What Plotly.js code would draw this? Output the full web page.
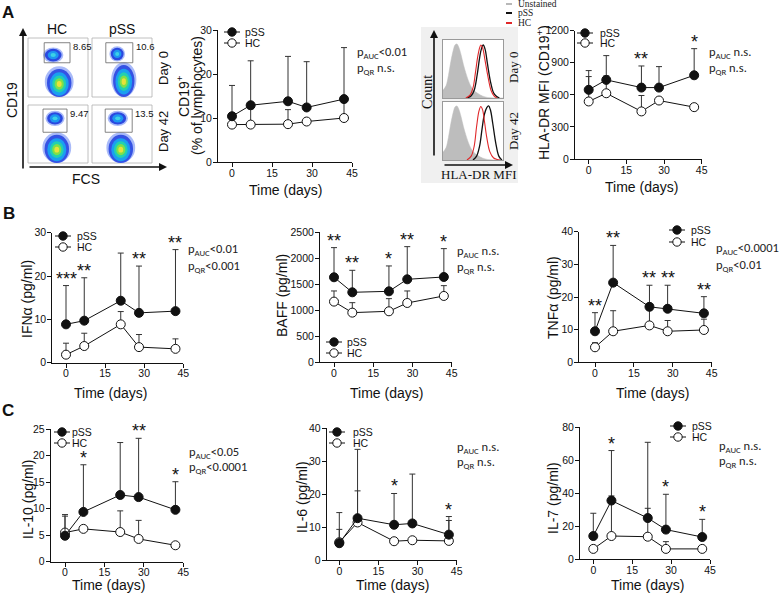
<!DOCTYPE html>
<html><head><meta charset="utf-8">
<script src="https://cdn.plot.ly/plotly-3.0.1.min.js"></script>
<style>body{margin:0;background:#fff}#c{width:780px;height:594px}</style>
</head><body><div id="c"></div>
<script>
// ---------------- DATA ----------------
const days = [0, 7, 21, 28, 42];
const xTickVals = [0, 15, 30, 45];

const cd19_pSS   = [10.4, 12.9, 13.8, 12.4, 14.3];
const cd19_pSSup = [17.4, 23.0, 24.0, 22.8, 26.0];
const cd19_HC    = [8.5, 8.5, 8.6, 9.2, 10.0];
const cd19_HCup  = [11.0, 12.1, 11.9, null, 13.7];
const cd19_stars = ['', '', '', '', ''];
const cd19_yticks = [0, 10, 20, 30];

const hla_pSS   = [647, 740, 668, 668, 783];
const hla_pSSup = [827, 967, 870, 864, 1032];
const hla_HC    = [538, 615, 445, 547, 485];
const hla_HCup  = [771, 777, 594, null, null];
const hla_stars = ['', '', '**', '', '*'];
const hla_yticks = [0, 300, 600, 900, 1200];

const ifn_pSS   = [8.85, 9.7, 14.3, 11.5, 11.9];
const ifn_pSSup = [17.8, 19.6, 25.3, 22.3, 26.1];
const ifn_HC    = [1.85, 3.85, 8.85, 3.6, 3.2];
const ifn_HCup  = [4.5, 6.8, 11.8, 6.5, 5.5];
const ifn_stars = ['***', '**', '', '**', '**'];
const ifn_yticks = [0, 10, 20, 30];

const baff_pSS   = [1635, 1346, 1365, 1596, 1641];
const baff_pSSup = [2205, 1769, 1853, 2224, 2186];
const baff_HC    = [1167, 955, 981, 1141, 1276];
const baff_HCup  = [1372, 1147, 1224, 1372, 1474];
const baff_stars = ['**', '**', '*', '**', '*'];
const baff_yticks = [0, 500, 1000, 1500, 2000, 2500];

const tnf_pSS   = [9.5, 24.4, 17.0, 16.4, 15.0];
const tnf_pSSup = [15.2, 35.8, 23.6, 23.6, 20.1];
const tnf_HC    = [4.6, 9.5, 11.3, 9.5, 9.9];
const tnf_HCup  = [6.0, 15.8, 16.0, 12.8, 13.2];
const tnf_stars = ['**', '**', '**', '**', '**'];
const tnf_yticks = [0, 10, 20, 30, 40];

const il10_pSS   = [4.9, 9.4, 12.6, 12.2, 9.8];
const il10_pSSup = [8.9, 18.3, 22.5, 23.3, 15.1];
const il10_HC    = [5.5, 6.2, 5.6, 4.3, 3.1];
const il10_HCup  = [8.6, null, 9.6, 7.8, null];
const il10_stars = ['', '*', '', '**', '*'];
const il10_yticks = [0, 5, 10, 15, 20, 25];

const il6_pSS   = [5.1, 12.7, 10.7, 11.1, 7.7];
const il6_pSSup = [14.4, 33.6, 20.2, 26.1, 13.2];
const il6_HC    = [5.4, 11.4, 5.7, 6.0, 5.8];
const il6_HCup  = [9.3, 21.0, null, null, 12.0];
const il6_stars = ['', '', '*', '', '*'];
const il6_yticks = [0, 10, 20, 30, 40];

const il7_pSS   = [14.1, 35.6, 25.0, 18.0, 13.5];
const il7_pSSup = [27.9, 65.9, 70.9, 39.4, 24.2];
const il7_HC    = [6.3, 14.1, 13.7, 6.3, 6.3];
const il7_HCup  = [null, 38.4, 30.9, 10.7, null];
const il7_stars = ['', '*', '', '*', '*'];
const il7_yticks = [0, 20, 40, 60, 80];

const pTexts = [
  ['p<sub>AUC</sub>&lt;0.01', 'p<sub>QR</sub> n.s.'],
  ['p<sub>AUC</sub> n.s.', 'p<sub>QR</sub> n.s.'],
  ['p<sub>AUC</sub>&lt;0.01', 'p<sub>QR</sub>&lt;0.001'],
  ['p<sub>AUC</sub> n.s.', 'p<sub>QR</sub> n.s.'],
  ['p<sub>AUC</sub>&lt;0.0001', 'p<sub>QR</sub>&lt;0.01'],
  ['p<sub>AUC</sub>&lt;0.05', 'p<sub>QR</sub>&lt;0.0001'],
  ['p<sub>AUC</sub> n.s.', 'p<sub>QR</sub> n.s.'],
  ['p<sub>AUC</sub> n.s.', 'p<sub>QR</sub> n.s.']
];
const yTitles = ['', 'HLA-DR MFI (CD19<sup>+</sup>)', 'IFN\u03b1 (pg/ml)', 'BAFF (pg/ml)', 'TNF\u03b1 (pg/ml)',
                 'IL-10 (pg/ml)', 'IL-6 (pg/ml)', 'IL-7 (pg/ml)'];

// flow cytometry gate percentages
const gatePct = ['8.65', '10.6', '9.47', '13.5'];
// histogram (HLA-DR MFI) curves, x and relative count
const hUnst_x = [0, 5, 9, 13, 17, 20, 23, 26, 30, 34, 38, 42, 47, 52, 57, 63, 70, 78, 100];
const hUnst_y = [14, 22, 40, 65, 85, 95, 97, 92, 78, 60, 45, 32, 20, 13, 9, 5, 2, 0.5, 0];
const hD0_HC_x  = [38, 45, 50, 54, 58, 61, 63, 66, 70, 75, 80, 85, 90];
const hD0_HC_y  = [0, 5, 18, 45, 75, 90, 95, 90, 68, 38, 14, 4, 0];
const hD0_pSS_x = [40, 47, 52, 57, 61, 64, 67, 70, 74, 79, 84, 89, 94];
const hD0_pSS_y = [0, 4, 14, 42, 72, 88, 95, 88, 62, 30, 10, 3, 0];
const hD42_HC_x  = [40, 47, 52, 56, 60, 63, 66, 69, 73, 78, 84, 90, 95];
const hD42_HC_y  = [0, 7, 25, 60, 88, 96, 90, 70, 40, 15, 4, 1, 0];
const hD42_pSS_x = [50, 56, 61, 65, 69, 73, 76, 79, 83, 88, 93, 98];
const hD42_pSS_y = [0, 7, 25, 55, 82, 94, 97, 90, 65, 30, 7, 0];

// ---------------- LAYOUT HELPERS ----------------
const W = 780, H = 594;
const px = v => v / W, py = v => 1 - v / H;
const SANS = '"Liberation Sans", Arial, sans-serif';
const SERIF = '"Liberation Serif", "Times New Roman", serif';
const PFONT = 'Carlito, "Open Sans", "Liberation Sans", sans-serif';

const panels = [
  {pSS: cd19_pSS, pSSup: cd19_pSSup, HC: cd19_HC, HCup: cd19_HCup, stars: cd19_stars, yt: cd19_yticks,
   L: 218, R: 352, T: 30, B: 162, x0: 232, leg: [232, 32, 43, 243], pt: [355, 52, 69], xt: [285, 190], ytx: 0, yty: 96},
  {pSS: hla_pSS, pSSup: hla_pSSup, HC: hla_HC, HCup: hla_HCup, stars: hla_stars, yt: hla_yticks,
   L: 575, R: 701.7, T: 30.7, B: 159, x0: 588.7, leg: [585, 33, 43, 598], pt: [707, 52, 68], xt: [641, 187], ytx: 543, yty: 93},
  {pSS: ifn_pSS, pSSup: ifn_pSSup, HC: ifn_HC, HCup: ifn_HCup, stars: ifn_stars, yt: ifn_yticks,
   L: 52.3, R: 183.3, T: 232.7, B: 362.7, x0: 66, leg: [63, 236, 247, 75], pt: [186, 250, 266], xt: [110, 393], ytx: 27, yty: 299},
  {pSS: baff_pSS, pSSup: baff_pSSup, HC: baff_HC, HCup: baff_HCup, stars: baff_stars, yt: baff_yticks,
   L: 320, R: 451.7, T: 232.3, B: 362.3, x0: 334, leg: [334, 342, 353, 345], pt: [455, 251, 267], xt: [386, 393], ytx: 282, yty: 296},
  {pSS: tnf_pSS, pSSup: tnf_pSSup, HC: tnf_HC, HCup: tnf_HCup, stars: tnf_stars, yt: tnf_yticks,
   L: 579.3, R: 711.7, T: 231.7, B: 362.3, x0: 595, leg: [677, 230, 242, 689], pt: [714, 249, 265], xt: [652, 393], ytx: 553, yty: 298},
  {pSS: il10_pSS, pSSup: il10_pSSup, HC: il10_HC, HCup: il10_HCup, stars: il10_stars, yt: il10_yticks,
   L: 50.7, R: 183.3, T: 429.3, B: 561.7, x0: 65, leg: [62, 432, 443, 70], pt: [187, 452, 467], xt: [108, 585], ytx: 28, yty: 499},
  {pSS: il6_pSS, pSSup: il6_pSSup, HC: il6_HC, HCup: il6_HCup, stars: il6_stars, yt: il6_yticks,
   L: 326.7, R: 456.7, T: 428.3, B: 560, x0: 339.3, leg: [337, 432, 443, 351], pt: [455, 447, 462], xt: [392, 585], ytx: 302, yty: 497},
  {pSS: il7_pSS, pSSup: il7_pSSup, HC: il7_HC, HCup: il7_HCup, stars: il7_stars, yt: il7_yticks,
   L: 580, R: 710, T: 427.3, B: 559.3, x0: 593.3, leg: [678, 426, 437, 690], pt: [717, 446, 461], xt: [647, 585], ytx: 553, yty: 498}
];

const traces = [];
const layout = {
  width: W, height: H, margin: {l: 0, r: 0, t: 0, b: 0},
  paper_bgcolor: '#ffffff', plot_bgcolor: 'rgba(0,0,0,0)',
  showlegend: false, font: {family: SANS, color: '#111'},
  annotations: [], shapes: []
};
const ann = layout.annotations, shp = layout.shapes;

function txt(x, y, text, size, opts) {
  ann.push(Object.assign({xref: 'paper', yref: 'paper', x: px(x), y: py(y), text: text, showarrow: false,
    xanchor: 'center', yanchor: 'middle', font: {family: SANS, size: size, color: '#111'}}, opts || {}));
}
function errs(up, v) { return up.map((u, i) => u == null ? 0 : u - v[i]); }

panels.forEach((p, k) => {
  const n = k + 1, sx = n === 1 ? '' : String(n);
  const ppd = (p.R - p.x0) / 45, xmin = -(p.x0 - p.L) / ppd;
  const ymax = p.yt[p.yt.length - 1];
  layout['xaxis' + sx] = {domain: [px(p.L), px(p.R)], range: [xmin, 45], anchor: 'y' + sx,
    tickvals: xTickVals, ticks: 'outside', ticklen: 4, tickwidth: 1, tickcolor: '#111', ticklabelstandoff: -3,
    showline: true, linecolor: '#111', linewidth: 1, showgrid: false, zeroline: false,
    tickfont: {size: 10.5, family: SANS, color: '#111'}, fixedrange: true};
  layout['yaxis' + sx] = {domain: [py(p.B), py(p.T)], range: [0, ymax], anchor: 'x' + sx,
    tickvals: p.yt, ticks: 'outside', ticklen: 4, tickwidth: 1, tickcolor: '#111', ticklabelstandoff: -1,
    showline: true, linecolor: '#111', linewidth: 1, showgrid: false, zeroline: false,
    tickfont: {size: 10.5, family: SANS, color: '#111'}, fixedrange: true};
  const common = {x: days, type: 'scatter', mode: 'lines+markers', xaxis: 'x' + sx, yaxis: 'y' + sx,
    cliponaxis: false, line: {color: '#111', width: 1}};
  traces.push(Object.assign({}, common, {name: 'HC', y: p.HC,
    marker: {size: 9, color: '#fff', line: {color: '#111', width: 1}},
    error_y: {type: 'data', symmetric: false, array: errs(p.HCup, p.HC), arrayminus: p.HC.map(() => 0),
      color: '#333', thickness: 1, width: 3}}));
  traces.push(Object.assign({}, common, {name: 'pSS', y: p.pSS,
    marker: {size: 9, color: '#111', line: {color: '#111', width: 1}},
    error_y: {type: 'data', symmetric: false, array: errs(p.pSSup, p.pSS), arrayminus: p.pSS.map(() => 0),
      color: '#333', thickness: 1, width: 3}}));
  // stars
  p.stars.forEach((s, i) => {
    if (!s) return;
    const top = Math.max(p.pSSup[i] || 0, p.HCup[i] || 0, p.pSS[i]);
    ann.push({xref: 'x' + sx, yref: 'y' + sx, x: days[i], y: top, text: s, showarrow: false,
      xanchor: 'center', yanchor: 'bottom', yshift: -5, font: {family: SANS, size: 18, color: '#111'}});
  });
  // manual legend
  const [mx, y1, y2, tx] = p.leg;
  [[y1, '#111', 'pSS'], [y2, '#fff', 'HC']].forEach(([yy, fill, label]) => {
    shp.push({type: 'line', xref: 'paper', yref: 'paper', x0: px(mx - 8), x1: px(mx + 8), y0: py(yy), y1: py(yy),
      line: {color: '#111', width: 1}});
    shp.push({type: 'circle', xref: 'paper', yref: 'paper', x0: px(mx - 4.2), x1: px(mx + 4.2), y0: py(yy + 4.2), y1: py(yy - 4.2),
      fillcolor: fill, line: {color: '#111', width: 1}});
    txt(tx, yy, label, 10.5, {xanchor: 'left'});
  });
  // p-values
  txt(p.pt[0], p.pt[1], pTexts[k][0], 12.5, {xanchor: 'left', font: {family: PFONT, size: 12.5, color: '#222'}});
  txt(p.pt[0], p.pt[2], pTexts[k][1], 12.5, {xanchor: 'left', font: {family: PFONT, size: 12.5, color: '#222'}});
  // axis titles
  txt(p.xt[0], p.xt[1], 'Time (days)', 14);
  if (yTitles[k]) txt(p.ytx, p.yty, yTitles[k], 14, {textangle: -90});
});
// CD19 two-line y title
txt(183, 96, 'CD19<sup>+</sup>', 14, {textangle: -90});
txt(197, 96, '(% of lymphocytes)', 14, {textangle: -90});

// panel letters
txt(8, 12, '<b>A</b>', 17);
txt(9, 213, '<b>B</b>', 17);
txt(8, 410, '<b>C</b>', 17);

// ---------------- Flow cytometry dot plots ----------------
const flowBoxes = [[28, 38, 88, 97], [92, 38, 152, 97], [28, 105, 88, 163], [92, 105, 152, 163]];
const flowGates = [[0.27, 0.08, 0.70, 0.42], [0.23, 0.08, 0.68, 0.42], [0.25, 0.07, 0.65, 0.47], [0.22, 0.07, 0.67, 0.47]];
const flowUpper = [[0.42, 0.29, 0.17, 0.13], [0.42, 0.27, 0.13, 0.13], [0.45, 0.23, 0.16, 0.13], [0.43, 0.23, 0.17, 0.13]];
const flowLower = [[0.52, 0.78, 0.24, 0.3], [0.53, 0.74, 0.21, 0.33], [0.48, 0.77, 0.24, 0.3], [0.48, 0.77, 0.24, 0.3]];
const lowerLevels = [[1.0, '#a9baf8'], [0.85, '#3552e4'], [0.66, '#1a9ff0'], [0.48, '#22d0b0'], [0.32, '#7ee04a'], [0.17, '#e8e23a']];
const upperLevels = [[1.0, '#a9baf8'], [0.82, '#2a48e0'], [0.54, '#1e96f0'], [0.26, '#3cd2e6']];
function ell(b, c, levels) {
  const w = b[2] - b[0], h = b[3] - b[1];
  const cx = b[0] + c[0] * w, cy = b[1] + c[1] * h;
  levels.forEach(([s, col]) => {
    const rx = c[2] * w * s, ry = c[3] * h * s;
    shp.push({type: 'circle', xref: 'paper', yref: 'paper', x0: px(cx - rx), x1: px(cx + rx), y0: py(Math.min(cy + ry, b[3])), y1: py(cy - ry),
      fillcolor: col, line: {width: 0}, layer: 'below'});
  });
}
flowBoxes.forEach((b, i) => {
  shp.push({type: 'rect', xref: 'paper', yref: 'paper', x0: px(b[0]), x1: px(b[2]), y0: py(b[3]), y1: py(b[1]),
    line: {color: '#b0b0b0', width: 0.8}, fillcolor: '#ffffff', layer: 'below'});
  ell(b, flowLower[i], lowerLevels);
  ell(b, flowUpper[i], upperLevels);
  const w = b[2] - b[0], h = b[3] - b[1], g = flowGates[i];
  shp.push({type: 'rect', xref: 'paper', yref: 'paper', x0: px(b[0] + g[0] * w), x1: px(b[0] + g[2] * w),
    y0: py(b[1] + g[3] * h), y1: py(b[1] + g[1] * h), line: {color: '#666', width: 0.8}});
  txt(b[0] + g[2] * w + 1, b[1] + g[1] * h + 4, gatePct[i], 9.5, {xanchor: 'left'});
});
txt(57, 29, 'HC', 14);
txt(122, 29, 'pSS', 14);
txt(163, 68, 'Day 0', 13, {textangle: -90});
txt(163, 132, 'Day 42', 13, {textangle: -90});
txt(12, 100, 'CD19', 14, {textangle: -90});
txt(86, 179, 'FCS', 14);
function arrow(hx, hy, ax, ay) {
  ann.push({xref: 'paper', yref: 'paper', x: px(hx), y: py(hy), ax: ax, ay: ay, text: '', showarrow: true,
    arrowhead: 2, arrowsize: 1, arrowwidth: 1.6, arrowcolor: '#111', standoff: 0, startstandoff: 0});
}
arrow(23, 28, 0, 142);
arrow(167, 167, -139, 0);

// ---------------- HLA-DR histograms ----------------
shp.push({type: 'rect', xref: 'paper', yref: 'paper', x0: px(421), x1: px(518), y0: py(183), y1: py(27),
  fillcolor: '#f0f0f0', line: {width: 0}, layer: 'below'});
const hBoxes = [[443, 40, 503, 98], [443, 102, 503, 160]];
hBoxes.forEach((b, i) => {
  shp.push({type: 'rect', xref: 'paper', yref: 'paper', x0: px(b[0]), x1: px(b[2]), y0: py(b[3]), y1: py(b[1]),
    fillcolor: '#ffffff', line: {width: 0}, layer: 'below'});
  const sx = String(9 + i);
  layout['xaxis' + sx] = {domain: [px(b[0]), px(b[2])], range: [0, 100], anchor: 'y' + sx, showline: true, mirror: true,
    linecolor: '#9a9a9a', linewidth: 1, showgrid: false, zeroline: false, showticklabels: false, ticks: '', fixedrange: true};
  layout['yaxis' + sx] = {domain: [py(b[3]), py(b[1])], range: [0, 104], anchor: 'x' + sx, showline: true, mirror: true,
    linecolor: '#9a9a9a', linewidth: 1, showgrid: false, zeroline: false, showticklabels: false, ticks: '', fixedrange: true};
  traces.push({x: hUnst_x, y: hUnst_y, type: 'scatter', mode: 'lines', fill: 'tozeroy', fillcolor: '#bdbdbd',
    line: {color: '#bdbdbd', width: 0.5, shape: 'spline'}, xaxis: 'x' + sx, yaxis: 'y' + sx});
  const hc = i === 0 ? [hD0_HC_x, hD0_HC_y] : [hD42_HC_x, hD42_HC_y];
  const ps = i === 0 ? [hD0_pSS_x, hD0_pSS_y] : [hD42_pSS_x, hD42_pSS_y];
  traces.push({x: ps[0], y: ps[1], type: 'scatter', mode: 'lines', line: {color: '#111', width: 1.3, shape: 'spline'},
    xaxis: 'x' + sx, yaxis: 'y' + sx});
  traces.push({x: hc[0], y: hc[1], type: 'scatter', mode: 'lines', line: {color: '#e0282a', width: 1.1, shape: 'spline'},
    xaxis: 'x' + sx, yaxis: 'y' + sx});
});
arrow(434, 30, 0, 127);
arrow(513, 165, -70, 0);
txt(428, 92, 'Count', 14, {textangle: -90, font: {family: SERIF, size: 14, color: '#111'}});
txt(478, 175, 'HLA-DR MFI', 13, {font: {family: SERIF, size: 13, color: '#111'}});
txt(513, 68, 'Day 0', 13, {textangle: -90, font: {family: SERIF, size: 13, color: '#111'}});
txt(513, 131, 'Day 42', 13, {textangle: -90, font: {family: SERIF, size: 13, color: '#111'}});
[[4, '#b8b8b8', 'Unstained'], [13, '#111', 'pSS'], [23, '#e0282a', 'HC']].forEach(([yy, col, lab]) => {
  shp.push({type: 'line', xref: 'paper', yref: 'paper', x0: px(506), x1: px(512), y0: py(yy), y1: py(yy), line: {color: col, width: 2}});
  txt(516, yy, lab, 9.5, {xanchor: 'left', font: {family: SERIF, size: 9.5, color: '#222'}});
});

Plotly.newPlot('c', traces, layout, {staticPlot: true, displayModeBar: false});
</script></body></html>
